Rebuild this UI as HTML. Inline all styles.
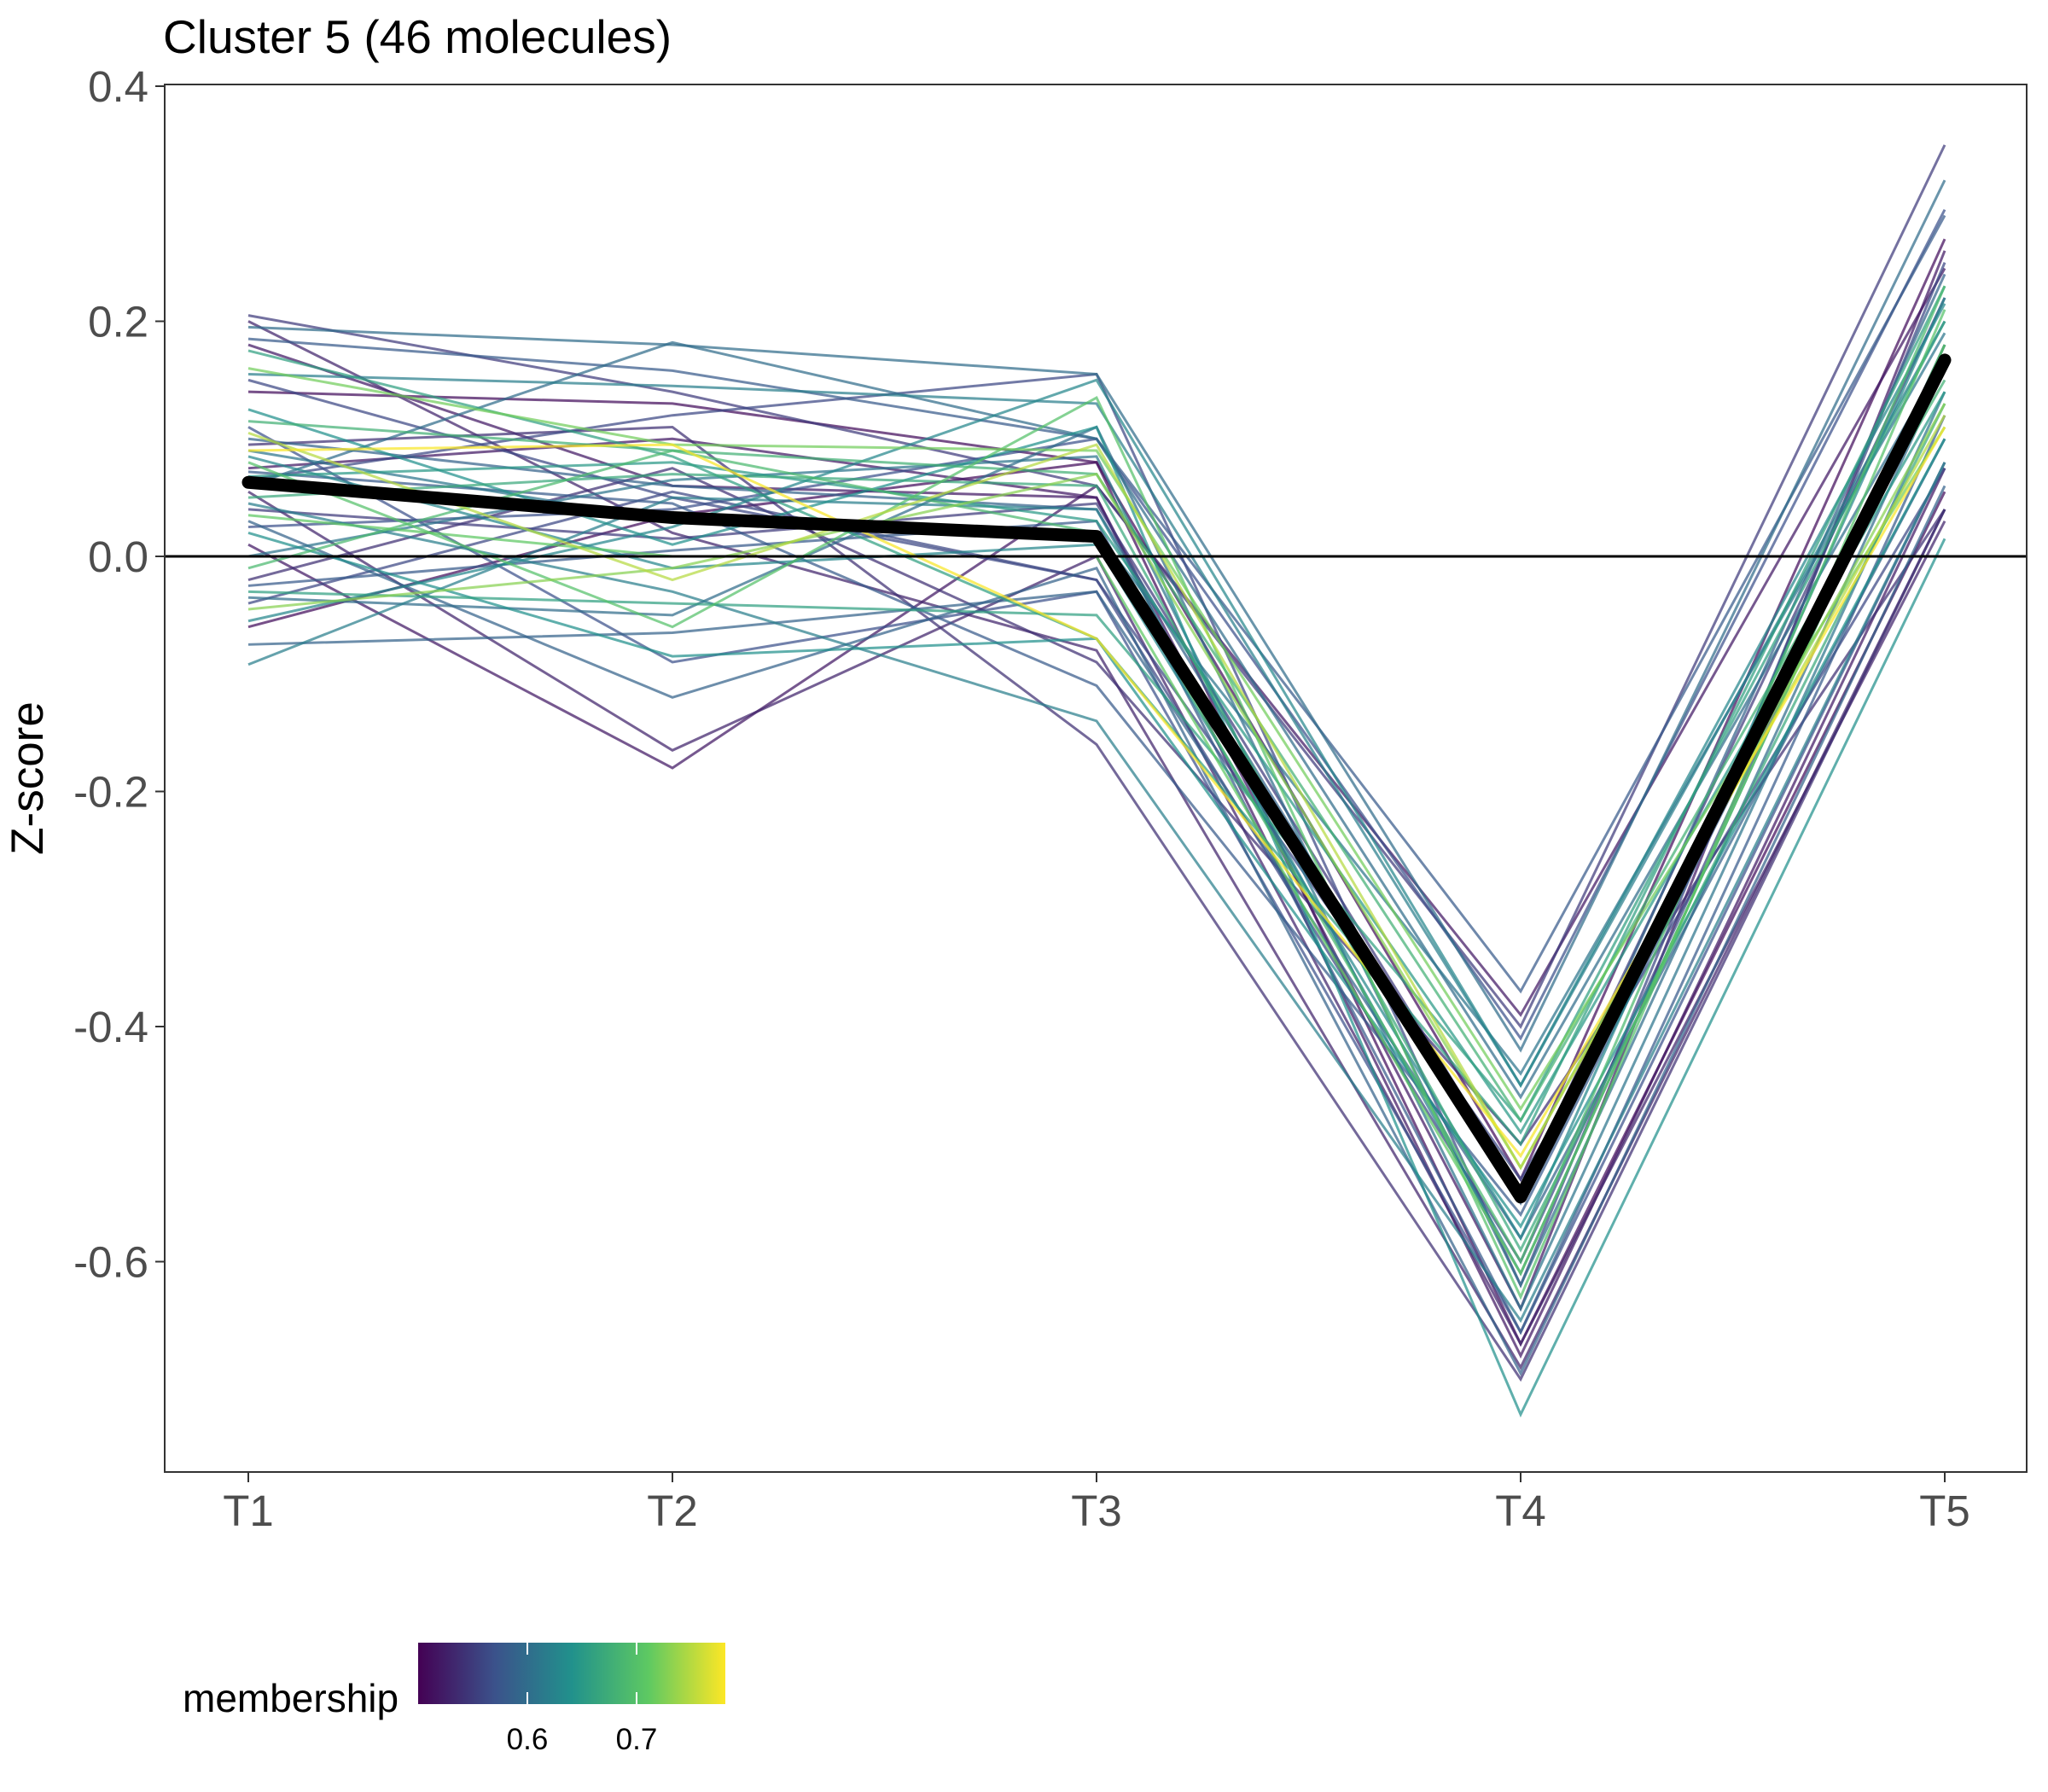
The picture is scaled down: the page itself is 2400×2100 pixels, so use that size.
<!DOCTYPE html>
<html><head><meta charset="utf-8"><style>
html,body{margin:0;padding:0;background:#fff;}
svg{display:block;font-family:"Liberation Sans",Arial,sans-serif;}
</style></head><body>
<svg id="chart" width="2400" height="2100" viewBox="0 0 2400 2100" xmlns="http://www.w3.org/2000/svg">
<defs>
<linearGradient id="vir" x1="0" x2="1" y1="0" y2="0">
<stop offset="0" stop-color="#440154"/><stop offset="0.25" stop-color="#3b528b"/><stop offset="0.5" stop-color="#21918c"/><stop offset="0.75" stop-color="#5ec962"/><stop offset="1" stop-color="#fde725"/>
</linearGradient>
<clipPath id="pc"><rect x="193" y="99" width="2182" height="1626"/></clipPath>
</defs>
<rect x="0" y="0" width="2400" height="2100" fill="#fff"/>
<text x="191" y="62" font-size="55" fill="#000">Cluster 5 (46 molecules)</text>
<g id="lines" clip-path="url(#pc)"></g>
<rect x="193" y="99" width="2182" height="1626" fill="none" stroke="#333" stroke-width="2"/>
<g id="axes"></g>
<text transform="translate(50,912) rotate(-90)" text-anchor="middle" font-size="53" fill="#000">Z-score</text>
<g>
<text x="214" y="2006" font-size="46" fill="#000">membership</text>
<rect x="490" y="1925" width="360" height="72" fill="url(#vir)"/>
<g id="legticks"></g>
</g>
</svg>
<script>
const categories = ["T1","T2","T3","T4","T5"];
const yTicks = [0.4,0.2,0.0,-0.2,-0.4,-0.6];
const yTickLabels = ["0.4","0.2","0.0","-0.2","-0.4","-0.6"];
const legendTicks = [0.6,0.7];
const legendTickLabels = ["0.6","0.7"];
const membership = [0.55,0.53,0.60,0.58,0.52,0.66,0.72,0.62,0.56,0.51,0.64,0.68,0.57,0.75,0.59,0.54,0.61,0.63,0.70,0.52,0.58,0.65,0.56,0.78,0.60,0.53,0.67,0.62,0.55,0.71,0.59,0.57,0.64,0.52,0.61,0.69,0.54,0.58,0.66,0.60,0.56,0.73,0.63,0.51,0.59,0.62];
const seriesT1 = [0.205,0.200,0.195,0.185,0.180,0.175,0.160,0.155,0.150,0.140,0.125,0.115,0.110,0.105,0.100,0.095,0.090,0.085,0.080,0.075,0.072,0.068,0.065,0.090,0.060,0.055,0.050,0.045,0.040,0.035,0.030,0.025,0.020,0.010,0.000,-0.010,-0.020,-0.025,-0.030,-0.035,-0.040,-0.045,-0.055,-0.060,-0.075,-0.092];
const seriesT2 = [0.140,0.020,0.180,0.158,0.060,0.085,0.095,0.145,0.050,0.130,0.010,0.090,-0.090,-0.020,0.060,0.110,0.030,-0.010,-0.060,0.100,0.045,0.080,0.120,0.095,0.182,-0.165,0.070,-0.030,0.015,0.000,-0.120,0.040,-0.085,-0.180,0.065,0.090,0.075,0.005,-0.040,-0.050,0.055,-0.010,0.025,0.035,-0.065,0.050];
const seriesT3 = [0.060,-0.080,0.155,0.100,0.050,-0.070,0.090,0.130,-0.020,0.080,0.110,0.070,-0.030,0.095,0.040,-0.160,0.020,0.010,0.135,0.050,-0.110,0.030,0.155,-0.070,0.100,0.000,0.060,-0.140,0.045,0.000,-0.010,0.100,-0.070,0.060,0.085,0.020,-0.090,0.030,-0.050,0.110,-0.020,0.070,0.150,0.080,-0.030,0.040];
const seriesT4 = [-0.400,-0.690,-0.420,-0.370,-0.640,-0.500,-0.470,-0.450,-0.600,-0.530,-0.730,-0.480,-0.660,-0.520,-0.550,-0.700,-0.440,-0.580,-0.630,-0.680,-0.560,-0.490,-0.620,-0.510,-0.460,-0.670,-0.590,-0.650,-0.540,-0.610,-0.695,-0.410,-0.570,-0.390,-0.640,-0.600,-0.500,-0.660,-0.480,-0.620,-0.530,-0.520,-0.450,-0.670,-0.580,-0.610];
const seriesT5 = [0.350,0.040,0.320,0.290,0.260,0.230,0.110,0.200,0.180,0.270,0.015,0.150,0.080,0.120,0.240,0.040,0.190,0.220,0.210,0.075,0.160,0.140,0.250,0.110,0.170,0.030,0.130,0.080,0.220,0.180,0.060,0.295,0.100,0.245,0.140,0.230,0.040,0.120,0.200,0.160,0.075,0.130,0.215,0.055,0.100,0.180];
const meanValues = [0.063,0.033,0.017,-0.545,0.167];

const X0=291, XSTEP=497, Y0=652, YSCALE=1377.5;
function xScale(i){return X0+XSTEP*i;}
function yScale(v){return Y0-v*YSCALE;}
function legX(m){return 490+(m-0.5)*1280;}
const stops=[[0,[68,1,84]],[0.25,[59,82,139]],[0.5,[33,145,140]],[0.75,[94,201,98]],[1,[253,231,37]]];
function viridis(t){t=Math.max(0,Math.min(1,t));for(let i=1;i<stops.length;i++){if(t<=stops[i][0]){const a=stops[i-1],b=stops[i];const f=(t-a[0])/(b[0]-a[0]);const c=a[1].map((v,k)=>Math.round(v+(b[1][k]-v)*f));return `rgb(${c.join(',')})`;}}return 'rgb(253,231,37)';}
const NS="http://www.w3.org/2000/svg";
const lines=document.getElementById('lines');
const order=membership.map((m,i)=>i).sort((a,b)=>membership[a]-membership[b]);
order.forEach(i=>{
  const vals=[seriesT1[i],seriesT2[i],seriesT3[i],seriesT4[i],seriesT5[i]];
  const p=document.createElementNS(NS,'polyline');
  p.setAttribute('points',vals.map((v,j)=>xScale(j)+','+yScale(v)).join(' '));
  p.setAttribute('fill','none');
  p.setAttribute('stroke',viridis((membership[i]-0.5)/0.282));
  p.setAttribute('stroke-opacity','0.72');
  p.setAttribute('stroke-width','3');
  
  
  lines.appendChild(p);
});
const h=document.createElementNS(NS,'line');
h.setAttribute('x1',193);h.setAttribute('x2',2375);h.setAttribute('y1',yScale(0));h.setAttribute('y2',yScale(0));
h.setAttribute('stroke','#000');h.setAttribute('stroke-width','3');


lines.appendChild(h);
const mp=document.createElementNS(NS,'polyline');
mp.setAttribute('points',meanValues.map((v,j)=>xScale(j)+','+yScale(v)).join(' '));
mp.setAttribute('fill','none');mp.setAttribute('stroke','#000');mp.setAttribute('stroke-width','15');
mp.setAttribute('stroke-linecap','round');mp.setAttribute('stroke-linejoin','round');


lines.appendChild(mp);
const axes=document.getElementById('axes');
yTicks.forEach((v,i)=>{
  const y=yScale(v);
  const t=document.createElementNS(NS,'line');
  t.setAttribute('x1',182);t.setAttribute('x2',193);t.setAttribute('y1',y);t.setAttribute('y2',y);
  t.setAttribute('stroke','#333');t.setAttribute('stroke-width','2');
  
  
  axes.appendChild(t);
  const tx=document.createElementNS(NS,'text');
  tx.setAttribute('x',174);tx.setAttribute('y',y+18);tx.setAttribute('text-anchor','end');
  tx.setAttribute('font-size','51');tx.setAttribute('fill','#4d4d4d');
  tx.textContent=yTickLabels[i];
  
  
  axes.appendChild(tx);
});
categories.forEach((c,i)=>{
  const x=xScale(i);
  const t=document.createElementNS(NS,'line');
  t.setAttribute('x1',x);t.setAttribute('x2',x);t.setAttribute('y1',1725);t.setAttribute('y2',1737);
  t.setAttribute('stroke','#333');t.setAttribute('stroke-width','2');
  
  
  axes.appendChild(t);
  const tx=document.createElementNS(NS,'text');
  tx.setAttribute('x',x);tx.setAttribute('y',1788);tx.setAttribute('text-anchor','middle');
  tx.setAttribute('font-size','51');tx.setAttribute('fill','#4d4d4d');
  tx.textContent=c;
  
  
  axes.appendChild(tx);
});
const lt=document.getElementById('legticks');
legendTicks.forEach((m,i)=>{
  const x=legX(m);
  [[1925,1939],[1983,1997]].forEach(([a,b])=>{
    const l=document.createElementNS(NS,'line');
    l.setAttribute('x1',x);l.setAttribute('x2',x);l.setAttribute('y1',a);l.setAttribute('y2',b);
    l.setAttribute('stroke','#fff');l.setAttribute('stroke-width','2');
    
    
    lt.appendChild(l);
  });
  const tx=document.createElementNS(NS,'text');
  tx.setAttribute('x',x);tx.setAttribute('y',2050);tx.setAttribute('text-anchor','middle');
  tx.setAttribute('font-size','35');tx.setAttribute('fill','#000');
  tx.textContent=legendTickLabels[i];
  
  
  lt.appendChild(tx);
});
</script>
</body></html>
